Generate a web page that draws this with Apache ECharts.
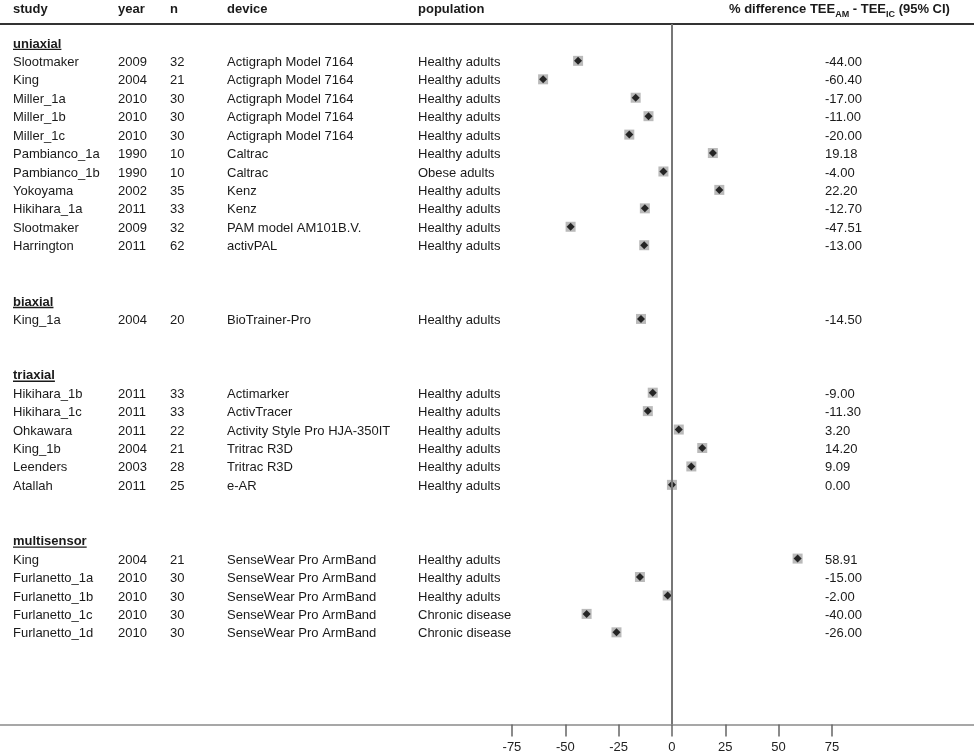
<!DOCTYPE html>
<html>
<head>
<meta charset="utf-8">
<script src="https://cdn.jsdelivr.net/npm/echarts@6/dist/echarts.min.js"></script>
<style>
html,body{margin:0;padding:0;background:#fff;}
#chart{width:974px;height:755px;}
</style>
</head>
<body>
<div id="chart"></div>
<script>
// ---- data ----
const groupNames = ['uniaxial', 'biaxial', 'triaxial', 'multisensor'];
const groupSizes = [11, 1, 6, 5];
const studies = ['Slootmaker','King','Miller_1a','Miller_1b','Miller_1c','Pambianco_1a','Pambianco_1b','Yokoyama','Hikihara_1a','Slootmaker','Harrington',
  'King_1a',
  'Hikihara_1b','Hikihara_1c','Ohkawara','King_1b','Leenders','Atallah',
  'King','Furlanetto_1a','Furlanetto_1b','Furlanetto_1c','Furlanetto_1d'];
const years = ['2009','2004','2010','2010','2010','1990','1990','2002','2011','2009','2011',
  '2004',
  '2011','2011','2011','2004','2003','2011',
  '2004','2010','2010','2010','2010'];
const ns = ['32','21','30','30','30','10','10','35','33','32','62',
  '20',
  '33','33','22','21','28','25',
  '21','30','30','30','30'];
const devices = ['Actigraph Model 7164','Actigraph Model 7164','Actigraph Model 7164','Actigraph Model 7164','Actigraph Model 7164','Caltrac','Caltrac','Kenz','Kenz','PAM model AM101B.V.','activPAL',
  'BioTrainer-Pro',
  'Actimarker','ActivTracer','Activity Style Pro HJA-350IT','Tritrac R3D','Tritrac R3D','e-AR',
  'SenseWear Pro ArmBand','SenseWear Pro ArmBand','SenseWear Pro ArmBand','SenseWear Pro ArmBand','SenseWear Pro ArmBand'];
const populations = ['Healthy adults','Healthy adults','Healthy adults','Healthy adults','Healthy adults','Healthy adults','Obese adults','Healthy adults','Healthy adults','Healthy adults','Healthy adults',
  'Healthy adults',
  'Healthy adults','Healthy adults','Healthy adults','Healthy adults','Healthy adults','Healthy adults',
  'Healthy adults','Healthy adults','Healthy adults','Chronic disease','Chronic disease'];
const values = [-44.00,-60.40,-17.00,-11.00,-20.00,19.18,-4.00,22.20,-12.70,-47.51,-13.00,
  -14.50,
  -9.00,-11.30,3.20,14.20,9.09,0.00,
  58.91,-15.00,-2.00,-40.00,-26.00];
const tickValues = [-75,-50,-25,0,25,50,75];
const headers = ['study','year','n','device','population'];

// ---- layout helpers ----
const FONT = '"Liberation Sans", Arial, sans-serif';
const cols = [13, 118, 170, 227, 418];
const valueCol = 825;
const titleCol = 729;
const textDy = 1.5;

// build row indices
const items = []; // text items
const studyRows = [];
let r = 0, k = 0;
groupNames.forEach((g, gi) => {
  items.push({kind: 'heading', row: r, text: g});
  for (let j = 0; j < groupSizes[gi]; j++) {
    r++;
    studyRows.push(r);
    items.push({kind: 'study', row: r, idx: k});
    k++;
  }
  r += 3;
});
items.push({kind: 'header', row: -1.85});

const measureCtx = document.createElement('canvas').getContext('2d');
function textWidth(t, font) { measureCtx.font = font; return measureCtx.measureText(t).width; }

const chart = echarts.init(document.getElementById('chart'), null, {renderer: 'canvas'});

function renderItem(params, api) {
  const it = items[params.dataIndex];
  const y = api.coord([0, it.row])[1] + textDy;
  const left = params.coordSys.x;
  const children = [];
  const txt = (x, s, font) => ({type: 'text', style: {x: left + x, y: y, text: s, font: font, fill: '#1a1a1a', align: 'left', verticalAlign: 'middle'}});
  if (it.kind === 'heading') {
    const f = 'bold 13px ' + FONT;
    children.push(txt(cols[0], it.text, f));
    const w = textWidth(it.text, 'bold 13px "Liberation Sans"');
    children.push({type: 'line', shape: {x1: left + cols[0], y1: y + 5.5, x2: left + cols[0] + w, y2: y + 5.5}, style: {stroke: '#1a1a1a', lineWidth: 1.3}});
  } else if (it.kind === 'study') {
    const f = '13px ' + FONT;
    const i = it.idx;
    [studies[i], years[i], ns[i], devices[i], populations[i]].forEach((s, c) => children.push(txt(cols[c], s, f)));
    children.push(txt(valueCol, values[i].toFixed(2), f));
  } else {
    const f = 'bold 13px ' + FONT;
    headers.forEach((s, c) => children.push(txt(cols[c], s, f)));
    children.push({type: 'text', style: {
      x: left + titleCol, y: y,
      text: '{b|% difference TEE}{s|AM}{b| - TEE}{s|IC}{b| (95% CI)}',
      align: 'left', verticalAlign: 'middle',
      rich: {
        b: {fontSize: 13, fontWeight: 'bold', fontFamily: FONT, fill: '#1a1a1a', lineHeight: 18},
        s: {fontSize: 9, fontWeight: 'bold', fontFamily: FONT, fill: '#1a1a1a', lineHeight: 18, verticalAlign: 'bottom'}
      }
    }});
  }
  return {type: 'group', children: children};
}

const option = {
  animation: false,
  backgroundColor: '#fff',
  grid: {left: 0, right: 0, top: 24, bottom: 30.5},
  xAxis: [{
    type: 'value', min: -315, max: 141.6, position: 'bottom',
    splitLine: {show: false},
    axisLine: {show: true, onZero: false, lineStyle: {color: '#8a8a8a', width: 1.5}},
    axisTick: {show: true, customValues: tickValues, length: 12, lineStyle: {color: '#666', width: 1.5}},
    axisLabel: {show: true, customValues: tickValues, margin: 16, fontSize: 13, fontFamily: FONT, color: '#222'}
  }, {
    type: 'value', min: -315, max: 141.6, position: 'top',
    splitLine: {show: false},
    axisLine: {show: true, onZero: false, lineStyle: {color: '#333', width: 2}},
    axisTick: {show: false}, axisLabel: {show: false}
  }],
  yAxis: {type: 'value', inverse: true, min: -1, max: 37, show: false},
  series: [{
    type: 'custom',
    renderItem: renderItem,
    data: items.map(it => [0, it.row]),
    clip: false,
    silent: true,
    z: 5
  }, {
    type: 'line',
    data: [],
    z: 1,
    markLine: {
      silent: true, symbol: 'none', label: {show: false},
      lineStyle: {color: '#777', width: 2, type: 'solid'},
      data: [{xAxis: 0}]
    }
  }, {
    type: 'scatter',
    symbol: 'rect', symbolSize: 10,
    itemStyle: {color: '#a9a9a9'},
    data: values.map((v, i) => [v, studyRows[i]]),
    z: 3
  }, {
    type: 'scatter',
    symbol: 'diamond', symbolSize: 8,
    itemStyle: {color: '#000'},
    data: values.map((v, i) => [v, studyRows[i]]),
    z: 4
  }]
};
chart.setOption(option);
</script>
</body>
</html>
